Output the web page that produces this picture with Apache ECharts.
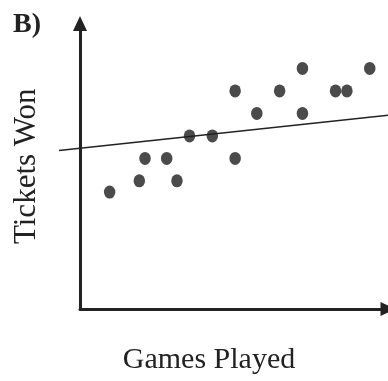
<!DOCTYPE html>
<html>
<head>
<meta charset="utf-8">
<script src="https://cdn.jsdelivr.net/npm/echarts@6/dist/echarts.min.js"></script>
<style>
html,body{margin:0;padding:0;background:#fff;}
#chart{width:388px;height:381px;}
</style>
</head>
<body>
<div id="chart"></div>
<script>
// Data (arbitrary units; axes have no tick labels)
var gamesPlayed = [2.6, 5.2, 5.7, 7.6, 8.5, 9.6, 11.6, 13.6, 13.6, 15.5, 17.5, 19.5, 19.5, 22.4, 23.4, 25.4];
var ticketsWon  = [5.2, 5.7, 6.7, 6.7, 5.7, 7.7, 7.7, 6.7, 9.7, 8.7, 9.7, 10.7, 8.7, 9.7, 9.7, 10.7];
var fitX = [-1.84, 27];
var fitY = [7.05, 8.62];
var panelLabel = 'B)';
var xTitle = 'Games Played';
var yTitle = 'Tickets Won';

var points = gamesPlayed.map(function (x, i) { return [x, ticketsWon[i]]; });
var fitLine = fitX.map(function (x, i) { return [x, fitY[i]]; });

var ink = '#222';
var serif = '"Liberation Serif", "Times New Roman", serif';
var hidden = { show: false };

var chart = echarts.init(document.getElementById('chart'));
chart.setOption({
  backgroundColor: '#fff',
  animation: false,
  title: {
    text: panelLabel,
    left: 8, top: 6,
    textStyle: { fontFamily: serif, fontWeight: 'bold', fontSize: 28, color: ink }
  },
  grid: [
    { left: 80, right: 0, top: 23.5, bottom: 72, containLabel: false },
    // same scale, extended to the left so the fit line can start before the y axis
    { left: 59, right: 0, top: 23.5, bottom: 72, containLabel: false }
  ],
  xAxis: [{
    type: 'value', min: 0, max: 27, gridIndex: 0,
    name: xTitle, nameLocation: 'middle', nameGap: 36,
    nameTextStyle: { fontFamily: serif, fontSize: 30, color: ink, padding: [0, 50, 0, 0] },
    axisLine: { show: true, lineStyle: { color: ink, width: 3 }, symbol: ['none', 'triangle'], symbolSize: [14, 15] },
    axisTick: hidden, axisLabel: hidden, splitLine: hidden
  }, {
    type: 'value', min: fitX[0], max: 27, gridIndex: 1,
    axisLine: hidden, axisTick: hidden, axisLabel: hidden, splitLine: hidden
  }],
  yAxis: [{
    type: 'value', min: 0, max: 12.7, gridIndex: 0,
    name: yTitle, nameLocation: 'middle', nameGap: 38, nameRotate: 90,
    nameTextStyle: { fontFamily: serif, fontSize: 31, color: ink },
    axisLine: { show: true, lineStyle: { color: ink, width: 3 }, symbol: ['none', 'triangle'], symbolSize: [14, 15] },
    axisTick: hidden, axisLabel: hidden, splitLine: hidden
  }, {
    type: 'value', min: 0, max: 12.7, gridIndex: 1,
    axisLine: hidden, axisTick: hidden, axisLabel: hidden, splitLine: hidden
  }],
  series: [
    {
      type: 'line', data: fitLine, xAxisIndex: 1, yAxisIndex: 1, symbol: 'none',
      lineStyle: { color: ink, width: 1.6 }, z: 2
    },
    {
      type: 'scatter', data: points, xAxisIndex: 0, yAxisIndex: 0, symbol: 'circle', symbolSize: [11.5, 13],
      itemStyle: { color: '#1e1e1e' }, z: 3
    }
  ]
});
</script>
</body>
</html>
